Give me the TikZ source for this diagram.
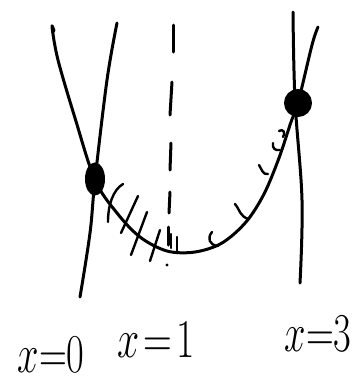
\documentclass[tikz,border=0pt]{standalone}
\usetikzlibrary{shapes.geometric}
\begin{document}
\begin{tikzpicture}[x=1pt,y=-1pt,
  pen/.style={line width=3pt,line cap=round,line join=round,black},
  hatch/.style={line width=2.4pt,line cap=round,black},
  lab/.style={font=\fontsize{24.88}{30}\selectfont,inner sep=0pt}]
\useasboundingbox (0,0) rectangle (361,384);
% parabola
\draw[pen] plot[smooth,tension=0.55] coordinates {(54,31) (52,27) (58,60) (75,118) (95,180) (117,213) (140,237) (167,251) (195,252) (222,243) (246,222) (264,194) (279,158) (291,122) (298,103) (312,45) (318,27)};
% left line
\draw[pen] plot[smooth,tension=0.6] coordinates {(117,23) (107,80) (95,180) (90,233) (80,297)};
% right line
\draw[pen] plot[smooth,tension=0.6] coordinates {(293,12) (295,100) (302,200) (300,283)};
% dashed axis
\draw[pen] (173,25) -- (173,52);
\draw[pen] (172,82) -- (170,115);
\draw[pen] (171,143) -- (170,170);
\draw[pen] (170,192) -- (169,213);
\draw[pen] (168,227) -- (168,245);
\fill (167,265) circle (1.6);
% hatching left
\draw[hatch] (123,184) .. controls (113,190) and (108,205) .. (108,222);
\draw[hatch] (138,196) -- (121,233);
\draw[hatch] (147,212) -- (131,255);
\draw[hatch] (160,230) -- (150,261);
\draw[hatch] (171,234) -- (171,248);
\draw[hatch] (177,237) -- (177,253);
% ticks right
\draw[hatch] (212,232) .. controls (207,238) and (209,245) .. (218,246);
\draw[hatch] (235,204) .. controls (240,210) and (240,217) .. (249,219);
\draw[hatch] (259,165) .. controls (262,170) and (263,175) .. (268,174);
\draw[hatch] (273,143) .. controls (272,148) and (275,151) .. (280,150);
\draw[hatch] (279,131) .. controls (283,128) and (286,133) .. (283,137);
% dots
\node[draw,fill=black,ellipse,line width=2pt,minimum width=18pt,minimum height=31pt,inner sep=0pt] (p0) at (95,179) {};
\node[draw,fill=black,circle,line width=2pt,minimum size=26pt,inner sep=0pt] (p3) at (298,103) {};
% labels
\node[lab] (l0) at (51,355) {\scalebox{1.55}[2.2]{$x{=}0$}};
\node[lab] (l1) at (156,340) {\scalebox{1.6}[2.2]{$x\mskip2mu{=}\mskip2mu 1$}};
\node[lab] (l3) at (318,334) {\scalebox{1.55}[2.2]{$x{=}3$}};
\end{tikzpicture}
\end{document}
